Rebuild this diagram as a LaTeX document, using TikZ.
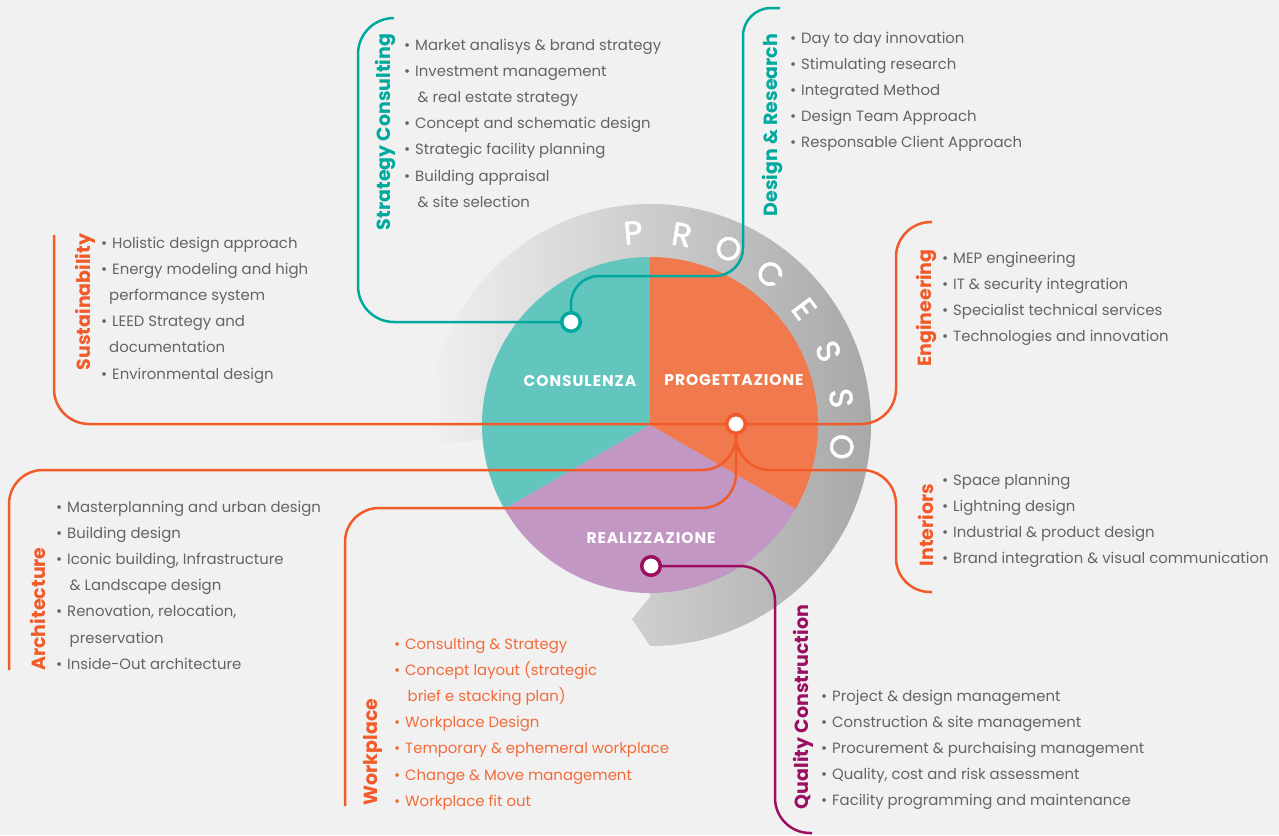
\documentclass[tikz,border=0pt]{standalone}
\usepackage{fontspec}
\setmainfont{Poppins}
\usetikzlibrary{calc}
\definecolor{bg}{HTML}{F1F1F1}
\definecolor{ringL}{HTML}{F1F1F1}
\definecolor{ringR}{HTML}{A8A8A8}
\definecolor{tealF}{HTML}{62C5BE}
\definecolor{orF}{HTML}{F07A4E}
\definecolor{purF}{HTML}{C397C4}
\definecolor{tealL}{HTML}{00A99D}
\definecolor{orL}{HTML}{F15A29}
\definecolor{magL}{HTML}{9B0E62}
\definecolor{txt}{HTML}{646464}
\definecolor{wpT}{HTML}{F26B3A}
\pgfdeclarelayer{back}
\pgfdeclarelayer{mid}
\pgfsetlayers{back,mid,main}
\newcommand\bul{\makebox[11pt][l]{\textbullet}}
\newcommand\nob{\hspace*{11pt}}
\newcommand\itemlist[5]{%
  \foreach \t [count=\i] in {#5}{%
    \node[itm, text=#4] (#1\i) at (#2,{#3+26.2*(\i-1)}) {\t};
  }%
}
\tikzset{
  itm/.style={font=\fontsize{14.9}{17}\selectfont, inner sep=0, anchor=base west},
  lab/.style={font=\fontsize{19}{22}\selectfont\bfseries, rotate=90, inner sep=0, anchor=center},
  sect/.style={font=\fontsize{15.5}{16}\selectfont\bfseries\addfontfeature{LetterSpace=6}, text=white, inner sep=0},
  proc/.style={font=\fontsize{32.5}{33}\selectfont\addfontfeature{FakeBold=1.6}, text=white, inner sep=0},
  hub/.style={circle, fill=white, draw, line width=3.5pt, minimum size=18.6pt, inner sep=0},
  conn/.style={line width=2.5pt}
}
\begin{document}
\begin{tikzpicture}[x=1pt,y=-1pt]
\useasboundingbox (0,0) rectangle (1279,835);
\coordinate (C) at (650,425);
\begin{pgfonlayer}{back}
  \fill[bg] (0,0) rectangle (1279,835);
  % grey ring
  \shade[left color=ringL, right color=ringR]
    ($(C)+(90:221)$) arc[start angle=90, end angle=-185, radius=221]
    -- (C) -- (650,597) -- (632,619) -- cycle;
  \foreach \L/\a [count=\i] in {P/95, R/80.5, O/66, C/51.5, E/37, S/22.5, S/8, O/-6.5}
    \node[proc, rotate=\a-90] (proc\i) at ($(C)+(-\a:193)$) {\L};
  % sectors
  \fill[tealF] (C) -- ($(C)+(-90:168)$) arc[start angle=-90, end angle=-210, radius=168] -- cycle;
  \fill[orF] (C) -- ($(C)+(-90:168)$) arc[start angle=-90, end angle=30, radius=168] -- cycle;
  \fill[purF] (C) -- ($(C)+(150:168)$) arc[start angle=150, end angle=30, radius=168] -- cycle;
\end{pgfonlayer}

% sector labels
\node[sect] (cons) at (580,381) {CONSULENZA};
\node[sect] (prog) at (734,380) {PROGETTAZIONE};
\node[sect] (real) at (651,538) {REALIZZAZIONE};

% hubs
\node[hub, draw=tealL] (dc) at (571,322) {};
\node[hub, draw=orL] (do) at (736,424) {};
\node[hub, draw=magL] (dm) at (651,566) {};

% free ends
\coordinate (sc-end) at (394,18);
\coordinate (dr-end) at (780,8);
\coordinate (su-end) at (54,235);
\coordinate (en-end) at (932,222);
\coordinate (in-end) at (932,592);
\coordinate (ar-end) at (9,670);
\coordinate (wp-end) at (345,806);
\coordinate (qc-end) at (812,833);

\begin{pgfonlayer}{mid}
  \draw[conn, tealL, rounded corners=36] (dc.center) -- (358,322) -- (358,18) -- (sc-end);
  \draw[conn, tealL, rounded corners=28] (dc.center) -- (571,276) -- (743,276) -- (743,8) -- (dr-end);
  \draw[conn, orL, rounded corners=35] (do.center) -- (54,424) -- (su-end);
  \draw[conn, orL, rounded corners=35] (do.center) -- (896,424) -- (896,222) -- (en-end);
  \draw[conn, orL, rounded corners=34] (do.center) -- (736,470) -- (9,470) -- (ar-end);
  \draw[conn, orL, rounded corners=34] (do.center) -- (736,470) -- (896,470) -- (896,592) -- (in-end);
  \draw[conn, orL, rounded corners=34] (do.center) -- (736,508) -- (345,508) -- (wp-end);
  \draw[conn, magL, rounded corners=35] (dm.center) -- (775,566) -- (775,833) -- (qc-end);
\end{pgfonlayer}

% labels
\node[lab, text=tealL] (l-sc) at (385,132) {Strategy Consulting};
\node[lab, text=tealL] (l-dr) at (772,125) {Design \& Research};
\node[lab, text=orL] (l-su) at (85,302) {Sustainability};
\node[lab, text=orL] (l-en) at (926,308) {Engineering};
\node[lab, text=orL] (l-in) at (926,525) {Interiors};
\node[lab, text=orL] (l-ar) at (38,609) {Architecture};
\node[lab, text=orL] (l-wp) at (373,752) {Workplace};
\node[lab, text=magL] (l-qc) at (803,707) {Quality Construction};

% item lists
\itemlist{sc}{404}{50}{txt}{{\bul Market analisys \& brand strategy},{\bul Investment management},{\nob\,\& real estate strategy},{\bul Concept and schematic design},{\bul Strategic facility planning},{\bul Building appraisal},{\nob\,\& site selection}}
\itemlist{dr}{790}{43}{txt}{{\bul Day to day innovation},{\bul Stimulating research},{\bul Integrated Method},{\bul Design Team Approach},{\bul Responsable Client Approach}}
\itemlist{su}{101}{248}{txt}{{\bul Holistic design approach},{\bul Energy modeling and high},{\hspace*{8pt}performance system},{\bul LEED Strategy and},{\hspace*{8pt}documentation},{\bul Environmental design}}
\itemlist{en}{942}{263}{txt}{{\bul MEP engineering},{\bul IT \& security integration},{\bul Specialist technical services},{\bul Technologies and innovation}}
\itemlist{in}{942}{485}{txt}{{\bul Space planning},{\bul Lightning design},{\bul Industrial \& product design},{\bul Brand integration \& visual communication}}
\itemlist{ar}{56}{512}{txt}{{\bul Masterplanning and urban design},{\bul Building design},{\bul Iconic building, Infrastructure},{\nob\,\& Landscape design},{\bul Renovation, relocation,},{\nob\,preservation},{\bul Inside-Out architecture}}
\itemlist{wp}{394}{649}{wpT}{{\bul Consulting \& Strategy},{\bul Concept layout (strategic},{\nob\,brief e stacking plan)},{\bul Workplace Design},{\bul Temporary \& ephemeral workplace},{\bul Change \& Move management},{\bul Workplace fit out}}
\itemlist{qc}{821}{701}{txt}{{\bul Project \& design management},{\bul Construction \& site management},{\bul Procurement \& purchaising management},{\bul Quality, cost and risk assessment},{\bul Facility programming and maintenance}}
\end{tikzpicture}
\end{document}
